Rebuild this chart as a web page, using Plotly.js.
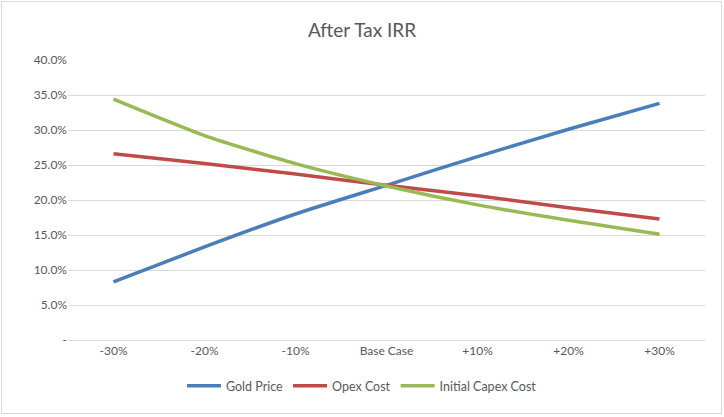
<!DOCTYPE html>
<html>
<head>
<meta charset="utf-8">
<script src="https://cdn.plot.ly/plotly-3.0.1.min.js"></script>
<style>
html,body{margin:0;padding:0;background:#fff;}
#wrap{position:relative;width:724px;height:417px;}
#chart{width:724px;height:417px;}
#frame{position:absolute;left:1px;top:1px;width:719px;height:411px;border:1px solid #d9d9d9;pointer-events:none;}
</style>
</head>
<body>
<div id="wrap"><div id="chart"></div><div id="frame"></div></div>
<script>
var categories = ["-30%", "-20%", "-10%", "Base Case", "+10%", "+20%", "+30%"];
var goldPrice = [0.083, 0.133, 0.180, 0.221, 0.262, 0.301, 0.338];
var opexCost = [0.266, 0.252, 0.237, 0.221, 0.206, 0.189, 0.173];
var capexCost = [0.344, 0.292, 0.252, 0.220, 0.193, 0.171, 0.151];
var yTickVals = [0, 0.05, 0.10, 0.15, 0.20, 0.25, 0.30, 0.35, 0.40];
var yTickText = ["-", "5.0%", "10.0%", "15.0%", "20.0%", "25.0%", "30.0%", "35.0%", "40.0%"];

var font = "Lato, 'Open Sans', sans-serif";
function tr(name, y, color) {
  return {x: categories, y: y, name: name, type: "scatter", mode: "lines",
    line: {color: color, width: 3.5, shape: "spline", smoothing: 0.6}};
}
var data = [
  tr("Gold Price", goldPrice, "#4a7ebb"),
  tr("Opex Cost", opexCost, "#be4b48"),
  tr("Initial Capex Cost", capexCost, "#98b954")
];
var layout = {
  width: 724, height: 417,
  margin: {l: 68, r: 19, t: 60, b: 77},
  paper_bgcolor: "#fff", plot_bgcolor: "#fff",
  font: {family: font, color: "#595959", size: 12},
  title: {text: "After Tax IRR", x: 0.5, xref: "container", xanchor: "center", y: 0.928, yanchor: "middle",
    font: {family: font, size: 19, color: "#595959"}},
  xaxis: {type: "category", range: [-0.5, 6.5], showgrid: false, showline: true,
    linecolor: "#d9d9d9", linewidth: 1, ticks: "", zeroline: false,
    tickfont: {size: 12, color: "#595959"}, fixedrange: true},
  yaxis: {range: [0, 0.40], tickvals: yTickVals, ticktext: yTickText,
    showgrid: true, gridcolor: "#d9d9d9", gridwidth: 1, zeroline: false,
    showline: false, ticks: "", ticklen: 0, tickfont: {size: 12, color: "#595959"}, fixedrange: true},
  showlegend: true,
  legend: {orientation: "h", x: 0.4615, xanchor: "center", y: -0.165, yanchor: "middle",
    font: {size: 12.5, color: "#595959"}, itemwidth: 34, tracegroupgap: 0},
};
Plotly.newPlot("chart", data, layout, {displayModeBar: false, staticPlot: true});
</script>
</body>
</html>
